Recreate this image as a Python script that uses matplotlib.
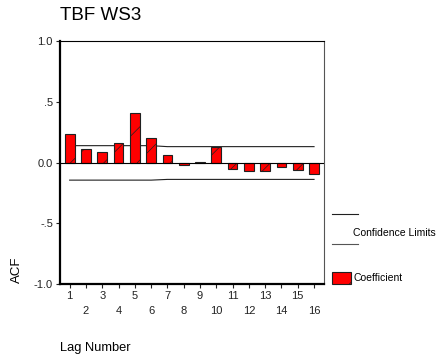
import numpy as np
import matplotlib
matplotlib.use("Agg")
import matplotlib.pyplot as plt
from matplotlib.lines import Line2D
from matplotlib.patches import Rectangle

plt.rcParams['font.family'] = ['Liberation Sans', 'DejaVu Sans']
plt.rcParams['hatch.color'] = '#ff9a9a'
plt.rcParams['hatch.linewidth'] = 0.5

# ACF values
lags = np.arange(1, 17)
acf = [0.235, 0.11, 0.085, 0.16, 0.41, 0.20, 0.066, -0.017,
       0.006, 0.126, -0.05, -0.072, -0.067, -0.039, -0.061, -0.095]
conf_upper = [0.139, 0.139, 0.139, 0.139, 0.139, 0.139, 0.131, 0.131,
              0.131, 0.131, 0.131, 0.131, 0.131, 0.131, 0.131, 0.131]
conf_lower = [-0.145, -0.145, -0.145, -0.145, -0.145, -0.145, -0.139, -0.139,
              -0.139, -0.139, -0.139, -0.139, -0.139, -0.139, -0.139, -0.139]
yticks = [-1.0, -0.5, 0.0, 0.5, 1.0]
ytick_labels = ["-1.0", "-.5", "0.0", ".5", "1.0"]

fig = plt.figure(figsize=(4.37, 3.58), dpi=100)
ax = fig.add_axes([0.137, 0.207, 0.604, 0.678])

ax.bar(lags, acf, width=0.6, color='#ff0000', edgecolor='#202020',
       linewidth=0.8, hatch='/', zorder=3)
ax.plot(lags, conf_upper, color='#202020', lw=0.8, zorder=2)
ax.plot(lags, conf_lower, color='#202020', lw=0.8, zorder=2)
ax.axhline(0, color='black', lw=0.8, zorder=4)

ax.set_xlim(0.4, 16.6)
ax.set_ylim(-1.0, 1.0)
ax.set_yticks(yticks)
ax.set_yticklabels(ytick_labels)
ax.set_xticks(lags)
ax.set_xticklabels([str(l) if l % 2 == 1 else "\n" + str(l) for l in lags],
                   linespacing=1.7)
ax.tick_params(axis='both', direction='out', length=3, width=0.8,
               labelsize=8, colors='#222222', pad=2)

ax.spines['left'].set_linewidth(1.6)
ax.spines['bottom'].set_linewidth(1.6)
ax.spines['top'].set_linewidth(0.8)
ax.spines['right'].set_linewidth(0.8)
ax.spines['right'].set_color('#555555')

fig.text(60 / 437, 1 - 16 / 358, "TBF WS3", fontsize=13.5, va='center', ha='left')
fig.text(17 / 437, 1 - 270 / 358, "ACF", fontsize=9.5, rotation=90,
         va='center', ha='center')
fig.text(60 / 437, 1 - 348 / 358, "Lag Number", fontsize=9.3,
         va='center', ha='left')

# legend
W, H = 437, 358
fig.add_artist(Line2D([332 / W, 358 / W], [1 - 214 / H] * 2, color='#202020', lw=0.8))
fig.add_artist(Line2D([332 / W, 358 / W], [1 - 244 / H] * 2, color='#555555', lw=0.8))
fig.text(353 / W, 1 - 233 / H, "Confidence Limits", fontsize=7.5,
         va='center', ha='left')
fig.add_artist(Rectangle((332 / W, 1 - 284 / H), 19 / W, 12 / H,
                         transform=fig.transFigure, facecolor='#ff0000',
                         edgecolor='#202020', lw=0.8, hatch='/'))
fig.text(353 / W, 1 - 278 / H, "Coefficient", fontsize=7.5,
         va='center', ha='left')

fig.savefig("out.png", dpi=100)
